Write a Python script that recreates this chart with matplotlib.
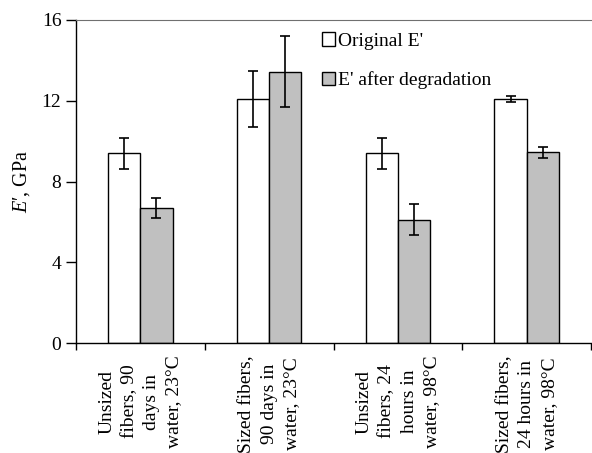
import numpy as np
from matplotlib import pyplot as plt

plt.rcParams['font.family'] = ['Liberation Serif', 'DejaVu Serif']
plt.rcParams['mathtext.fontset'] = 'custom'
plt.rcParams['mathtext.rm'] = 'Liberation Serif'
plt.rcParams['mathtext.it'] = 'Liberation Serif:italic'

categories = ['Unsized\nfibers, 90\ndays in\nwater, 23°C',
              'Sized fibers,\n90 days in\nwater, 23°C',
              'Unsized\nfibers, 24\nhours in\nwater, 98°C',
              'Sized fibers,\n24 hours in\nwater, 98°C']
original = [9.4, 12.1, 9.4, 12.1]
original_err = [0.76, 1.38, 0.76, 0.14]
degraded = [6.7, 13.45, 6.12, 9.45]
degraded_err = [0.5, 1.77, 0.78, 0.27]
yticks = [0, 4, 8, 12, 16]

fig = plt.figure(figsize=(5.92, 4.53), dpi=100)
ax = fig.add_axes([0.1284, 0.2422, 0.870, 0.7137])

x = np.arange(len(categories))
w = 0.25
ekw = dict(ecolor='black', elinewidth=1.2, capsize=3.6, capthick=1.2)
ax.bar(x - w / 2, original, w, yerr=original_err, color='white',
       edgecolor='black', linewidth=1, label="Original E'", error_kw=ekw)
ax.bar(x + w / 2, degraded, w, yerr=degraded_err, color='#c0c0c0',
       edgecolor='black', linewidth=1, label="E' after degradation", error_kw=ekw)

ax.set_xlim(-0.5, len(categories) - 0.5)
ax.set_ylim(0, 16)
ax.set_yticks(yticks)
ax.tick_params(axis='y', labelsize=14, length=7, width=1, pad=3.5, direction='out')

ax.set_xticks(x)
ax.set_xticklabels(categories, rotation=90, fontsize=14, multialignment='center',
                   linespacing=1.42)
ax.tick_params(axis='x', which='major', length=0, pad=8.6)
ax.set_xticks(np.arange(len(categories) + 1) - 0.5, minor=True)
ax.tick_params(axis='x', which='minor', length=5, width=1, direction='out')

ax.set_ylabel("$E$\u2032, GPa", fontsize=14.5, labelpad=7)

ax.spines['right'].set_visible(False)
ax.spines['top'].set_color('#707070')
ax.spines['left'].set_linewidth(1)
ax.spines['bottom'].set_linewidth(1)

ax.legend(loc='upper left', bbox_to_anchor=(0.463, 0.986), frameon=False, fontsize=14,
          handlelength=0.68, handleheight=0.68, handletextpad=0.12, labelspacing=1.12,
          borderaxespad=0)

fig.savefig('out.png', dpi=100)
